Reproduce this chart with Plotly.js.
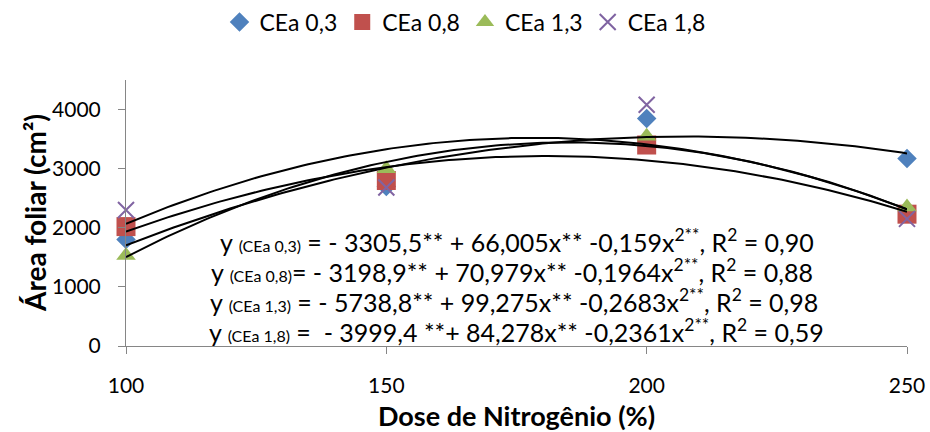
<!DOCTYPE html>
<html><head><meta charset="utf-8">
<script src="https://cdn.plot.ly/plotly-3.0.1.min.js"></script>
<style>html,body{margin:0;padding:0;background:#fff}#chart{width:930px;height:432px}</style>
</head><body><div id="chart"></div>
<script>
// ---- data ----
const doses = [100, 150, 200, 250];
const seriesNames = ['CEa 0,3', 'CEa 0,8', 'CEa 1,3', 'CEa 1,8'];
const cea03 = [1800, 2700, 3850, 3170];
const cea08 = [2020, 2800, 3400, 2230];
const cea13 = [1530, 3000, 3550, 2350];
const cea18 = [2300, 2680, 4080, 2150];
// quadratic regression coefficients printed on the chart [b0, b1, b2]
const coef03 = [-3305.5, 66.005, -0.159];
const coef08 = [-3198.9, 70.979, -0.1964];
const coef13 = [-5738.8, 99.275, -0.2683];
const coef18 = [-3999.4, 84.278, -0.2361];
const equations = [
  'y <span style="font-size:16px">(CEa 0,3)</span> = - 3305,5** + 66,005x** -0,159x<sup>2**</sup>, R<sup>2</sup> = 0,90',
  'y <span style="font-size:16px">(CEa 0,8)</span>= - 3198,9** + 70,979x** -0,1964x<sup>2**</sup>, R<sup>2</sup> = 0,88',
  'y <span style="font-size:16px">(CEa 1,3)</span> = - 5738,8** + 99,275x** -0,2683x<sup>2**</sup>, R<sup>2</sup> = 0,98',
  'y <span style="font-size:16px">(CEa 1,8)</span> =  - 3999,4 **+ 84,278x** -0,2361x<sup>2**</sup>, R<sup>2</sup> = 0,59'
];
const xTitle = 'Dose de Nitrogênio (%)';
const yTitle = 'Área foliar (cm²)';
const xTicks = [100, 150, 200, 250];
const yTicks = [0, 1000, 2000, 3000, 4000];

// ---- styling ----
const FONT = 'Lato, "Open Sans", sans-serif';
const values = [cea03, cea08, cea13, cea18];
const coefs = [coef03, coef08, coef13, coef18];
const colors = ['#4F81BD', '#C0504D', '#9BBB59', '#8064A2'];
const symbols = ['diamond', 'square', 'triangle-up', 'x-thin'];
const sizes = [15, 19, 17, 16];

const traces = [];
values.forEach((v, i) => {
  const m = {symbol: symbols[i], size: sizes[i], color: colors[i]};
  if (symbols[i] === 'x-thin') m.line = {color: colors[i], width: 2};
  traces.push({x: doses, y: v, name: seriesNames[i], type: 'scatter', mode: 'markers',
    marker: m, cliponaxis: false});
});
// trend curves from the printed regression equations
coefs.forEach((c) => {
  const xs = [], ys = [];
  for (let x = doses[0]; x <= doses[doses.length - 1]; x += 1) {
    xs.push(x); ys.push(c[0] + c[1] * x + c[2] * x * x);
  }
  traces.push({x: xs, y: ys, type: 'scatter', mode: 'lines', showlegend: false,
    line: {color: '#000', width: 2}, hoverinfo: 'skip', cliponaxis: false});
});

const eqY = [0.396, 0.283, 0.170, 0.060];
const eqX = [0.5006, 0.494, 0.497, 0.5006];
const annotations = equations.map((t, i) => ({
  text: t, xref: 'paper', yref: 'paper', x: eqX[i], y: eqY[i],
  xanchor: 'center', yanchor: 'middle', showarrow: false,
  font: {family: FONT, size: 25, color: '#000'}
}));
annotations.push({
  text: '<b>' + yTitle + '</b>', xref: 'paper', yref: 'paper', x: -0.1165, y: 0.5,
  xanchor: 'center', yanchor: 'middle', textangle: -90, showarrow: false,
  font: {family: FONT, size: 28, color: '#000'}
});

const layout = {
  width: 930, height: 432,
  margin: {l: 126, r: 23, t: 80, b: 86},
  paper_bgcolor: '#fff', plot_bgcolor: '#fff',
  font: {family: FONT, size: 21, color: '#000'},
  showlegend: true,
  legend: {orientation: 'h', xref: 'container', yref: 'container', x: 0.5, xanchor: 'center',
    y: 0.949, yanchor: 'middle', font: {family: FONT, size: 23, color: '#000'}, itemwidth: 30},
  xaxis: {range: [100, 250], tickvals: xTicks, showgrid: false, zeroline: false,
    showline: true, linecolor: '#868686', linewidth: 1, ticks: 'outside', ticklen: 7,
    tickcolor: '#868686', ticklabelstandoff: 14, automargin: false,
    tickfont: {family: FONT, size: 21},
    title: {text: '<b>' + xTitle + '</b>', font: {family: FONT, size: 27}, standoff: 15}},
  yaxis: {range: [0, 4500], tickvals: yTicks, showgrid: false, zeroline: false,
    showline: true, linecolor: '#868686', linewidth: 1, ticks: 'outside', ticklen: 7,
    tickcolor: '#868686', ticklabelstandoff: 13, automargin: false,
    tickfont: {family: FONT, size: 21}},
  annotations: annotations
};
Plotly.newPlot('chart', traces, layout, {displayModeBar: false, staticPlot: true});
</script></body></html>
